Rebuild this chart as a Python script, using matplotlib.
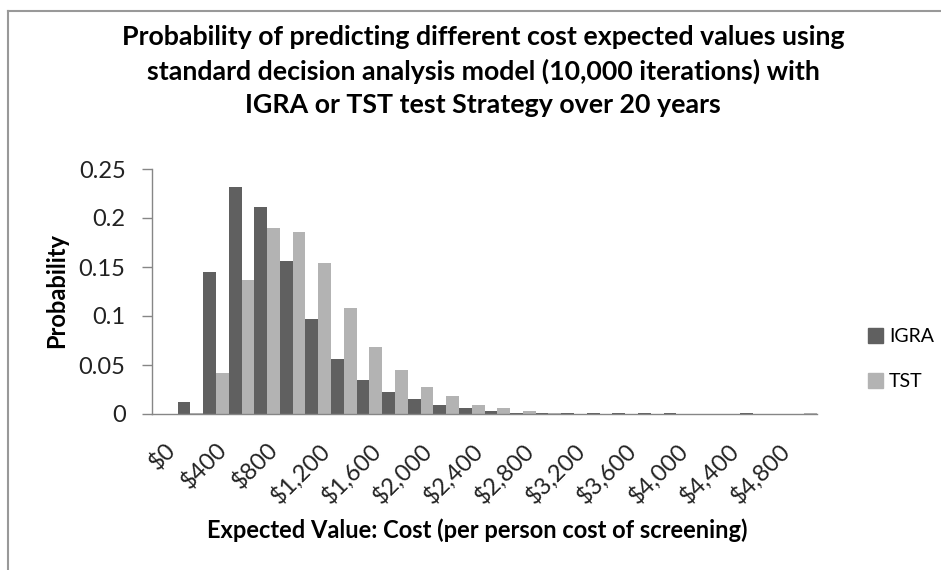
import matplotlib
matplotlib.use("Agg")
import matplotlib.pyplot as plt
import matplotlib.transforms as mtransforms
from matplotlib.lines import Line2D
from matplotlib.patches import Patch
import numpy as np

# cost bins ($200 steps), probability per bin
categories = ["$0", "$200", "$400", "$600", "$800", "$1,000", "$1,200", "$1,400",
              "$1,600", "$1,800", "$2,000", "$2,200", "$2,400", "$2,600", "$2,800",
              "$3,000", "$3,200", "$3,400", "$3,600", "$3,800", "$4,000", "$4,200",
              "$4,400", "$4,600", "$4,800", "$5,000"]
igra = [0, 0.012, 0.145, 0.232, 0.211, 0.156, 0.097, 0.056, 0.035, 0.022, 0.015,
        0.009, 0.006, 0.003, 0.0015, 0.001, 0.001, 0.001, 0.001, 0.001, 0.001,
        0, 0, 0.001, 0, 0]
tst = [0, 0.001, 0.042, 0.137, 0.190, 0.186, 0.154, 0.108, 0.068, 0.045, 0.028,
       0.018, 0.009, 0.006, 0.0035, 0.0007, 0.0005, 0.0005, 0.0005, 0.0005, 0.0005,
       0, 0, 0, 0, 0.001]
yticks = [0, 0.05, 0.1, 0.15, 0.2, 0.25]

W, H = 941, 570
plt.rcParams['font.family'] = ['Lato', 'DejaVu Sans']

fig = plt.figure(figsize=(W / 100, H / 100), dpi=100)
ax = fig.add_axes([152 / W, (H - 414) / H, (817 - 152) / W, (414 - 169) / H])

x = np.arange(len(categories))
ax.bar(x - 0.25, igra, width=0.5, color="#606060", label="IGRA")
ax.bar(x + 0.25, tst, width=0.5, color="#b3b3b3", label="TST")

ax.set_xlim(-0.5, len(categories) - 0.5)
ax.set_ylim(0, 0.25)
ax.set_yticks(yticks)
ax.set_yticklabels(["%g" % v for v in yticks], fontsize=17, color="#222222")
ax.set_xticks(x[::2])
ax.set_xticklabels(categories[::2], rotation=45, ha="right", va="top",
                   rotation_mode="anchor", fontsize=17, color="#222222")
shift = mtransforms.ScaledTranslation(-6 / 100, 2 / 100, fig.dpi_scale_trans)
for lab in ax.get_xticklabels():
    lab.set_transform(lab.get_transform() + shift)
ax.tick_params(axis="y", length=7, width=1, color="#868686", pad=12)
ax.tick_params(axis="x", length=0, pad=18)
for s in ["top", "right"]:
    ax.spines[s].set_visible(False)
for s in ["left", "bottom"]:
    ax.spines[s].set_color("#868686")
    ax.spines[s].set_linewidth(1)

fig.text(57 / W, 1 - 291 / H, "Probability", rotation=90, ha="center", va="center",
         fontsize=17, fontweight="bold")

fig.text(477 / W, 1 - 530 / H, "Expected Value: Cost (per person cost of screening)",
         ha="center", va="center", fontsize=17, fontweight="bold")

fig.text(483 / W, 1 - 71 / H,
         "Probability of predicting different cost expected values using\n"
         "standard decision analysis model (10,000 iterations) with\n"
         "IGRA or TST test Strategy over 20 years",
         ha="center", va="center", fontsize=19.3, fontweight="bold", linespacing=1.47)

handles = [Patch(color="#606060", label="IGRA"), Patch(color="#b3b3b3", label="TST")]
fig.legend(handles=handles, loc="center left", bbox_to_anchor=(850 / W, 1 - 359 / H),
           frameon=False, fontsize=14, handlelength=0.8, handleheight=0.8,
           handletextpad=0.3, labelspacing=1.45)

# outer chart border (left and top only visible)
fig.add_artist(Line2D([8 / W, 8 / W], [0, 1 - 11 / H], color="#999999", lw=1.5))
fig.add_artist(Line2D([8 / W, 1], [1 - 11 / H, 1 - 11 / H], color="#999999", lw=1.5))

fig.savefig("out.png", dpi=100)
